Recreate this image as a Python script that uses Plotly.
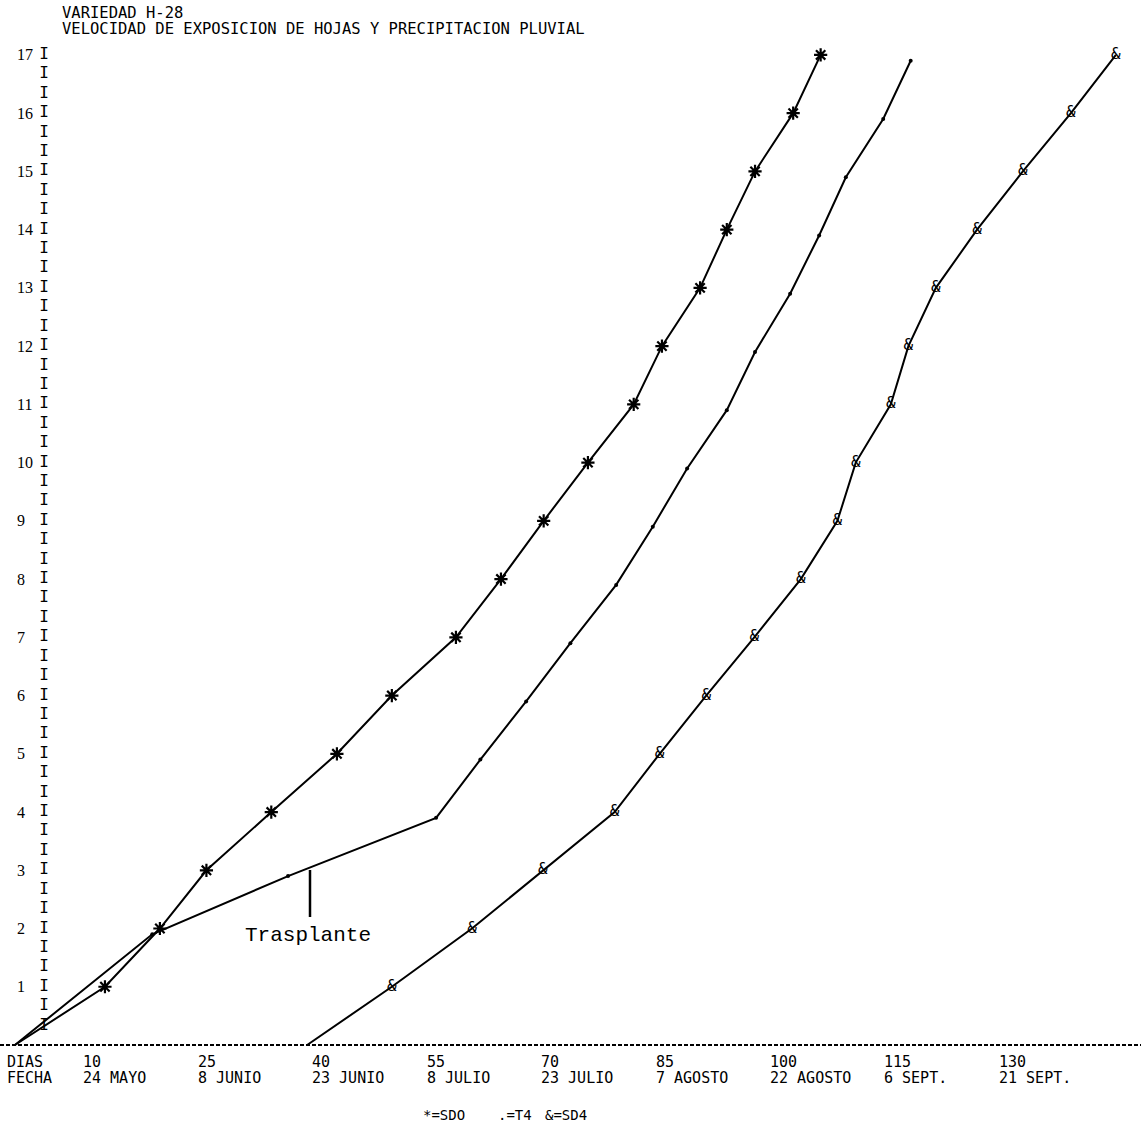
import plotly.graph_objects as go

# ---------------- data ----------------
# x = days (DIAS), y = number of exposed leaves
sdo_days = [1.3, 13.1, 20.3, 26.4, 34.9, 43.5, 50.7, 59.1, 65.0, 70.6, 76.4,
            82.4, 86.1, 91.1, 94.6, 98.3, 103.3, 106.9]
sdo_leaves = [0, 1, 2, 3, 4, 5, 6, 7, 8, 9, 10, 11, 12, 13, 14, 15, 16, 17]

t4_days = [1.3, 19.3, 37.1, 56.5, 62.3, 68.3, 74.1, 80.1, 84.9, 89.4, 94.6,
           98.3, 102.9, 106.7, 110.2, 115.1, 118.7]
t4_leaves = [0, 1.9, 2.9, 3.9, 4.9, 5.9, 6.9, 7.9, 8.9, 9.9, 10.9, 11.9, 12.9,
             13.9, 14.9, 15.9, 16.9]

sd4_days = [39.6, 50.7, 61.2, 70.5, 79.9, 85.8, 91.9, 98.2, 104.3, 109.1, 111.5,
            116.1, 118.4, 122.0, 127.4, 133.4, 139.7, 145.6]
sd4_leaves = [0, 1, 2, 3, 4, 5, 6, 7, 8, 9, 10, 11, 12, 13, 14, 15, 16, 17]

x_tick_days = [10, 25, 40, 55, 70, 85, 100, 115, 130]
x_tick_dias = ["10", "25", "40", "55", "70", "85", "100", "115", "130"]
x_tick_fecha = ["24 MAYO", "8 JUNIO", "23 JUNIO", "8 JULIO", "23 JULIO",
                "7 AGOSTO", "22 AGOSTO", "6 SEPT.", "21 SEPT."]

y_ticks = [1, 2, 3, 4, 5, 6, 7, 8, 9, 10, 11, 12, 13, 14, 15, 16, 17]
y_tick_text = ["1", "2", "3", "4", "5", "6", "7", "8", "9", "10", "11", "12",
               "13", "14", "15", "16", "17"]
axis_marks = [k / 3 for k in range(1, 52)]  # "I" characters of the printed axis

title_lines = ["VARIEDAD H-28",
               "VELOCIDAD DE EXPOSICION DE HOJAS Y PRECIPITACION PLUVIAL"]

# ---------------- style ----------------
W, H = 1141, 1131
PX_PER_DAY = 7.63
DAY0_PX = 5
Y0_PX = 1045
PX_PER_LEAF = 58.24
MONO = "DejaVu Sans Mono"

x_range = [-DAY0_PX / PX_PER_DAY, (W - DAY0_PX) / PX_PER_DAY]
y_range = [(Y0_PX - H) / PX_PER_LEAF, Y0_PX / PX_PER_LEAF]


def ypx(py):
    return (Y0_PX - py) / PX_PER_LEAF


def xpx(px):
    return (px - DAY0_PX) / PX_PER_DAY


fig = go.Figure()

# curves (lines through every point, symbols printed from the first leaf on)
for xs, ys, nm in [(sdo_days, sdo_leaves, "SDO"), (t4_days, t4_leaves, "T4"),
                   (sd4_days, sd4_leaves, "SD4")]:
    fig.add_trace(go.Scatter(x=xs, y=ys, mode="lines", name=nm,
                             line=dict(color="black", width=2)))

fig.add_trace(go.Scatter(
    x=sdo_days[1:], y=sdo_leaves[1:], mode="markers", name="SDO",
    marker=dict(symbol="asterisk-open", size=11, color="black",
                line=dict(color="black", width=2.2)),
))
fig.add_trace(go.Scatter(
    x=t4_days[1:], y=t4_leaves[1:], mode="markers", name="T4",
    marker=dict(symbol="circle", size=4, color="black"),
))
fig.add_trace(go.Scatter(
    x=sd4_days[1:], y=sd4_leaves[1:], mode="text", name="SD4",
    text=["&"] * (len(sd4_days) - 1), textposition="middle center",
    textfont=dict(family=MONO, size=16, color="black"),
))
fig.add_trace(go.Scatter(
    x=[xpx(44)] * len(axis_marks), y=axis_marks, mode="text",
    text=["I"] * len(axis_marks), textposition="middle center",
    textfont=dict(family=MONO, size=16, color="black"), hoverinfo="skip",
))

ann = []
for yv, t in zip(y_ticks, y_tick_text):
    ann.append(dict(x=xpx(15), y=yv, xref="x", yref="y", text=t,
                    xanchor="left", yanchor="middle", showarrow=False,
                    font=dict(family="Liberation Serif", size=16, color="black")))
ann.append(dict(x=0, y=ypx(1062), xref="x", yref="y", text="DIAS",
                xanchor="left", yanchor="middle", showarrow=False,
                font=dict(family=MONO, size=15, color="black")))
ann.append(dict(x=0, y=ypx(1078), xref="x", yref="y", text="FECHA",
                xanchor="left", yanchor="middle", showarrow=False,
                font=dict(family=MONO, size=15, color="black")))
for d, t1, t2 in zip(x_tick_days, x_tick_dias, x_tick_fecha):
    ann.append(dict(x=d, y=ypx(1062), xref="x", yref="y", text=t1,
                    xanchor="left", yanchor="middle", showarrow=False,
                    font=dict(family=MONO, size=15, color="black")))
    ann.append(dict(x=d, y=ypx(1078), xref="x", yref="y", text=t2,
                    xanchor="left", yanchor="middle", showarrow=False,
                    font=dict(family=MONO, size=15, color="black")))
for i, t in enumerate(title_lines):
    ann.append(dict(x=xpx(60), y=ypx(13 + 16 * i), xref="x", yref="y", text=t,
                    xanchor="left", yanchor="middle", showarrow=False,
                    font=dict(family=MONO, size=15.5, color="black")))
for px, t in [(421, "*=SDO"), (496, ".=T4"), (543, "&=SD4")]:
    ann.append(dict(x=xpx(px), y=ypx(1115), xref="x", yref="y", text=t,
                    xanchor="left", yanchor="middle", showarrow=False,
                    font=dict(family=MONO, size=14, color="black")))
ann.append(dict(x=xpx(243), y=ypx(935), xref="x", yref="y", text="Trasplante",
                xanchor="left", yanchor="middle", showarrow=False,
                font=dict(family="Liberation Mono", size=21, color="black")))

shapes = [
    dict(type="line", xref="paper", yref="y", x0=0, x1=1, y0=0, y1=0,
         line=dict(color="black", width=2, dash="4px,2px")),
    dict(type="line", xref="x", yref="y", x0=xpx(310), x1=xpx(310),
         y0=ypx(870), y1=ypx(917), line=dict(color="black", width=2.5)),
]

fig.update_layout(
    width=W, height=H, margin=dict(l=0, r=0, t=0, b=0),
    paper_bgcolor="white", plot_bgcolor="white", showlegend=False,
    xaxis=dict(range=x_range, visible=False, fixedrange=True),
    yaxis=dict(range=y_range, visible=False, fixedrange=True),
    annotations=ann, shapes=shapes,
)

fig.write_html("out.html")
